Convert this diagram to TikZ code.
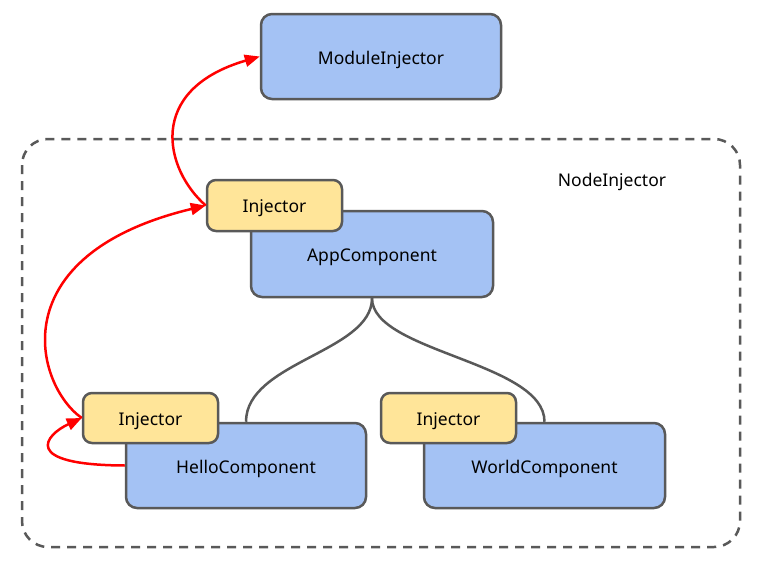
\documentclass[tikz,border=0pt]{standalone}
\usepackage{fontspec}
\setmainfont{Noto Sans}
\usetikzlibrary{arrows.meta}
\definecolor{boxgray}{HTML}{595959}
\definecolor{boxblue}{HTML}{A4C2F4}
\definecolor{boxyellow}{HTML}{FFE599}
\definecolor{arrred}{HTML}{FF0000}
\newcommand{\lowtext}[1]{\raisebox{-3pt}[\height][\depth]{#1}}
\begin{document}
\begin{tikzpicture}[x=1pt,y=-1pt,
  every node/.style={font=\fontsize{17.5}{20}\selectfont},
  compbox/.style={draw=boxgray, line width=2.5pt, rounded corners=11pt, fill=boxblue, minimum width=240pt, minimum height=85pt, inner sep=0pt},
  injbox/.style={draw=boxgray, line width=2.5pt, rounded corners=9pt, fill=boxyellow, minimum width=135pt, minimum height=50pt, inner sep=0pt},
  link/.style={draw=boxgray, line width=2.5pt},
  redarr/.style={draw=arrred, line width=2.5pt, -{Triangle[length=15pt,width=12pt]}},
  area/.style={draw=boxgray, line width=2.5pt, dash pattern=on 9pt off 7pt, rounded corners=26pt}
]
\useasboundingbox (0,0) rectangle (760,570);
\fill[white] (0,0) rectangle (760,570);

% NodeInjector area
\draw[area] (22,139) rectangle (740,547);
\node (nodeinj) at (612,179) {\lowtext{NodeInjector}};

% boxes
\node[compbox] (module) at (381,56.5) {\lowtext{ModuleInjector}};
\node[compbox, minimum width=242pt, minimum height=86pt] (app) at (372,254) {\lowtext{AppComponent}};
\node[injbox, minimum height=51pt] (appinj) at (274.5,205.5) {\lowtext{Injector}};
\node[compbox] (hello) at (246,465.5) {\lowtext{HelloComponent}};
\node[injbox] (helloinj) at (150.5,418) {\lowtext{Injector}};
\node[compbox, minimum width=241pt] (world) at (544.5,465.5) {\lowtext{WorldComponent}};
\node[injbox] (worldinj) at (448.5,418) {\lowtext{Injector}};

% gray tree connectors
\draw[link] (app.south) .. controls (372,352) and (246,362) .. (hello.north);
\draw[link] (app.south) .. controls (372,352) and (544.5,362) .. (world.north);

% red arrows
\draw[redarr] (appinj.west) .. controls (165,170) and (145,90) .. (module.west);
\draw[redarr] (helloinj.west) .. controls (35,385) and (0,255) .. (appinj.west);
\draw[redarr] (hello.west) .. controls (20,465) and (45,435) .. (helloinj.west);
\end{tikzpicture}
\end{document}
